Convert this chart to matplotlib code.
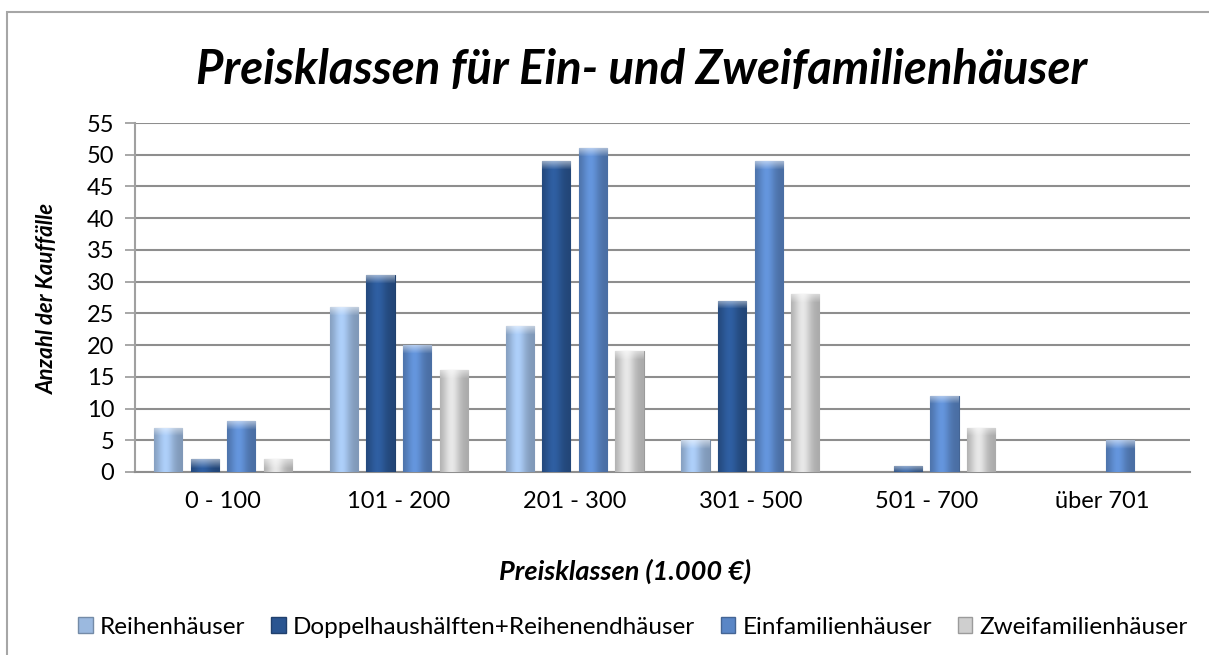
import matplotlib.pyplot as plt
import numpy as np
from matplotlib.patches import Rectangle, Patch
from matplotlib.colors import to_rgb

plt.rcParams['font.family'] = ['Lato', 'DejaVu Sans']

categories = ['0 - 100', '101 - 200', '201 - 300', '301 - 500', '501 - 700', 'über 701']
series_names = ['Reihenhäuser', 'Doppelhaushälften+Reihenendhäuser',
                'Einfamilienhäuser', 'Zweifamilienhäuser']
reihen = [7, 26, 23, 5, 0, 0]
doppel = [2, 31, 49, 27, 1, 0]
einfam = [8, 20, 51, 49, 12, 5]
zweifam = [2, 16, 19, 28, 7, 0]
colors = ['#9bb9df', '#2a5591', '#5a86c6', '#cfcfcf']

W, H = 1209, 655
fig = plt.figure(figsize=(W / 100, H / 100), dpi=100)
ax = fig.add_axes([135 / W, 1 - 472 / H, (1190 - 135) / W, (472 - 123) / H])

# outer chart frame (cut off at right/bottom like the source)
fig.add_artist(Rectangle((7 / W, -0.1), 1.2, 1 - 12 / H + 0.1, transform=fig.transFigure,
                         fill=False, ec='#a6a6a6', lw=1.5))

x = np.arange(len(categories))
bw = 0.16
pitch = 0.208
ymax = 55
px_per_unit = (472 - 123) / ymax


def shaded_bar(x0, h, color):
    if h <= 0:
        return
    base = np.array(to_rgb(color))
    bar = ax.bar(x0, h, width=bw, color=color, align='edge', zorder=3,
                 edgecolor=tuple(base * 0.75), linewidth=0.8)[0]
    cols = 40
    rows = max(int(h * px_per_unit), 2)
    t = np.linspace(0, 1, cols)
    # horizontal shading: darker at the edges, lighter left of centre
    prof = 0.82 + 0.3 * np.exp(-((t - 0.4) / 0.3) ** 2)
    img = np.clip(base[None, None, :] * prof[None, :, None], 0, 1)
    img = np.repeat(img, rows, axis=0)
    cap = min(8, rows)
    for i in range(cap):
        k = 1 - i / cap
        img[i] = img[i] + (1 - img[i]) * 0.5 * k
    im = ax.imshow(img, extent=(x0, x0 + bw, 0, h), aspect='auto', zorder=3.5,
                   interpolation='bilinear', origin='upper')
    im.set_clip_path(bar)


all_series = [reihen, doppel, einfam, zweifam]
for s, (vals, c) in enumerate(zip(all_series, colors)):
    offs = (s - 1.5) * pitch - bw / 2
    for xi, v in zip(x, vals):
        shaded_bar(xi + offs, v, c)

ax.set_xlim(-0.5, len(categories) - 0.5)
ax.set_ylim(0, ymax)
ax.set_yticks(range(0, 56, 5))
ax.set_xticks(x)
ax.set_xticklabels(categories)
ax.tick_params(axis='y', length=7, width=1.2, color='#999999', labelsize=17, pad=8)
ax.tick_params(axis='x', length=0, labelsize=17, pad=14)
ax.grid(axis='y', color='#8e8e8e', lw=1.5, zorder=1)
ax.set_axisbelow(True)
for side in ['top', 'right']:
    ax.spines[side].set_visible(False)
ax.spines['left'].set_color('#a0a0a0')
ax.spines['left'].set_linewidth(1.5)
ax.spines['bottom'].set_color('#8e8e8e')
ax.spines['bottom'].set_linewidth(1.5)

fig.text(642 / W, 1 - 70 / H, 'Preisklassen für Ein- und Zweifamilienhäuser',
         ha='center', va='center', fontsize=34, fontweight='bold', fontstyle='italic')
fig.text(47 / W, 1 - 298 / H, 'Anzahl der Kauffälle', rotation=90, ha='center', va='center',
         fontsize=16, fontweight='bold', fontstyle='italic')
fig.text(625 / W, 1 - 571 / H, 'Preisklassen (1.000 €)', ha='center', va='center',
         fontsize=19.5, fontweight='bold', fontstyle='italic')

handles = [Patch(facecolor=c, edgecolor=tuple(np.array(to_rgb(c)) * 0.75)) for c in colors]
fig.legend(handles, series_names, loc='center', bbox_to_anchor=(633 / W, 1 - 627 / H),
           ncol=4, frameon=False, fontsize=17.5, handlelength=0.6, handleheight=0.6,
           handletextpad=0.3, columnspacing=1.05)

fig.savefig('out.png', dpi=100)
